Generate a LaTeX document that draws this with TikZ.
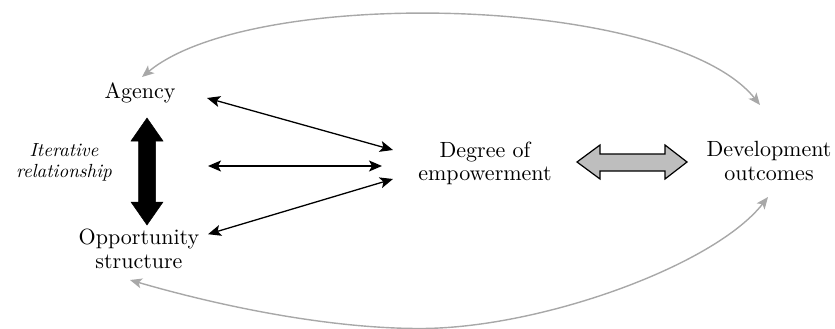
\documentclass[tikz,border=0pt]{standalone}
\usepackage{fontspec}
\setmainfont{lmroman10}[Extension=.otf, UprightFont=*-regular, ItalicFont=*-italic, BoldFont=*-bold, BoldItalicFont=*-bolditalic]
\usetikzlibrary{arrows.meta,calc}
\definecolor{arcgray}{HTML}{A8A8A8}
\definecolor{blockgray}{HTML}{BEBEBE}
\tikzset{
  lbl/.style={inner sep=0pt, align=center, font=\fontsize{22}{23.5}\selectfont},
  itlbl/.style={inner sep=0pt, align=center, font=\fontsize{19}{21}\selectfont\itshape},
  thinarrow/.style={line width=1.3pt, {Stealth[length=13pt,width=11pt,inset=3pt]}-{Stealth[length=13pt,width=11pt,inset=3pt]}},
  arcarrow/.style={line width=1.4pt, arcgray, {Stealth[length=12pt,width=10pt,inset=3pt]}-{Stealth[length=12pt,width=10pt,inset=3pt]}},
  blockarrow/.style={line width=1.2pt, draw=black, fill=blockgray, line join=miter},
  thickarrow/.style={fill=black, draw=black, line width=0.5pt}
}
\begin{document}
\begin{tikzpicture}[x=1pt,y=-1pt]
\useasboundingbox (0,0) rectangle (835,329);

\node[lbl] (agency) at (140,92.65) {Agency};
\node[itlbl] (iter) at (64,162.75) {Iterative\\relationship};
\node[lbl] (opp) at (139,249) {Opportunity\\structure};
\node[lbl] (degree) at (485,163.15) {Degree of\\empowerment};
\node[lbl] (dev) at (769,161.1) {Development\\outcomes};

% thick black double arrow (iterative relationship)
\draw[thickarrow] (147,118) -- (163,141) -- (155.5,141) -- (155.5,202) -- (163,202)
  -- (147,225) -- (131,202) -- (138.5,202) -- (138.5,141) -- (131,141) -- cycle;
\coordinate (mid) at (208,166);

% thin double arrows
\draw[thinarrow] ([shift={(67,5.35)}]agency.center) -- ([shift={(-92,-13.15)}]degree.center);
\draw[thinarrow] (mid) -- ([shift={(-103,2.85)}]degree.center);
\draw[thinarrow] ([shift={(69,-14.8)}]opp.center) -- ([shift={(-92,15.85)}]degree.center);

% gray block double arrow
\draw[blockarrow] (577,162) -- (600,145) -- (600,154) -- (665,154) -- (665,145) -- (687,162)
  -- (665,179) -- (665,171) -- (600,171) -- (600,179) -- cycle;

% gray arcs
\draw[arcarrow] ([shift={(2,-15.65)}]agency.center) .. controls +(111,-92) and +(-88,-110) .. ([shift={(-9,-56.1)}]dev.center);
\coordinate (bot) at (420,328.5);
\draw[arcarrow] ([shift={(-9,31)}]opp.center) .. controls +(93,27) and +(-90,0) .. (bot)
  .. controls +(120,0) and +(-54,69) .. ([shift={(-1,35.9)}]dev.center);
\end{tikzpicture}
\end{document}
